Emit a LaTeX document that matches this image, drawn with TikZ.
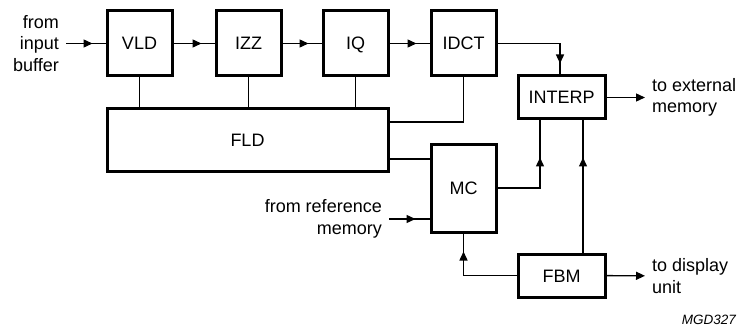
\documentclass[tikz,border=0pt]{standalone}
\usepackage{fontspec}
\setmainfont{Liberation Sans}
\usetikzlibrary{arrows.meta,decorations.markings}
\begin{document}
\begin{tikzpicture}[x=1pt,y=-1pt]
  \tikzset{block/.style 2 args={draw,line width=3pt,minimum width=#1,minimum height=#2,inner sep=0pt,text height=13pt,text depth=0pt,font=\fontsize{18}{22}\selectfont},
    wire/.style={line width=1.4pt},
    head at/.style={postaction={decorate},decoration={markings,mark=at position #1 with {\arrow{Triangle[length=9pt,width=8pt]}}}},
    tag/.style={inner xsep=7pt,inner ysep=0pt,font=\fontsize{18}{21.5}\selectfont}}
  \useasboundingbox (0,0) rectangle (741,331);

  \node [block={65pt}{65pt}] (VLD) at (139.5,43.5) {VLD};
  \node [block={65pt}{65pt}] (IZZ) at (248.5,43.5) {IZZ};
  \node [block={65pt}{65pt}] (IQ) at (355.5,43.5) {IQ};
  \node [block={65pt}{65pt}] (IDCT) at (463.5,43.5) {IDCT};
  \node [block={87pt}{43pt}] (INTERP) at (561.5,97.5) {INTERP};
  \node [block={281pt}{63pt}] (FLD) at (247.5,140.5) {FLD};
  \node [block={65pt}{87pt}] (MC) at (463.5,188.5) {MC};
  \node [block={87pt}{43pt}] (FBM) at (561.5,275.5) {FBM};

  \node [tag,anchor=east,align=right] (inbuf) at (66,43.5) {from\\input\\buffer};
  \node [tag,anchor=east,align=right] (refmem) at (389,219) {from reference\\memory};
  \node [tag,anchor=west,align=left] (extmem) at (645,97.5) {to external\\memory};
  \node [tag,anchor=west,align=left] (disp) at (645,276) {to display\\unit};
  \node [anchor=east,inner sep=0pt,font=\fontsize{13.5}{15}\selectfont\itshape] (code) at (736,320) {MGD327};

  \draw [wire,head at=-13pt] (inbuf.east) -- (VLD);
  \draw [wire,head at=-13pt] (VLD) -- (IZZ);
  \draw [wire,head at=-13pt] (IZZ) -- (IQ);
  \draw [wire,head at=-13pt] (IQ) -- (IDCT);
  \draw [wire,head at=-11pt] (IDCT.east) -| ([xshift=-1.5pt]INTERP.north);
  \draw [wire] (VLD.south) -- (VLD |- FLD.north);
  \draw [wire] (IZZ.south) -- (IZZ |- FLD.north);
  \draw [wire] (IQ.south) -- (IQ |- FLD.north);
  \draw [wire] (IDCT.south) |- (FLD.east |- 0,122);
  \draw [wire] (FLD.east |- 0,159) -- (MC.west |- 0,159);
  \draw [wire,head at=-37pt] (MC.east |- 0,188) -| ([xshift=-21.5pt]INTERP.south);
  \draw [wire,head at=-37pt] ([xshift=21.5pt]FBM.north) -- ([xshift=21.5pt]INTERP.south);
  \draw [wire,head at=-18pt] (FBM.west) -| (MC.south);
  \draw [wire,head at=-14pt] (refmem.east) -- (MC.west |- refmem.east);
  \draw [wire,-{Triangle[length=9pt,width=8pt]}] (INTERP) -- (extmem);
  \draw [wire,-{Triangle[length=9pt,width=8pt]}] (FBM) -- (disp);
\end{tikzpicture}
\end{document}
